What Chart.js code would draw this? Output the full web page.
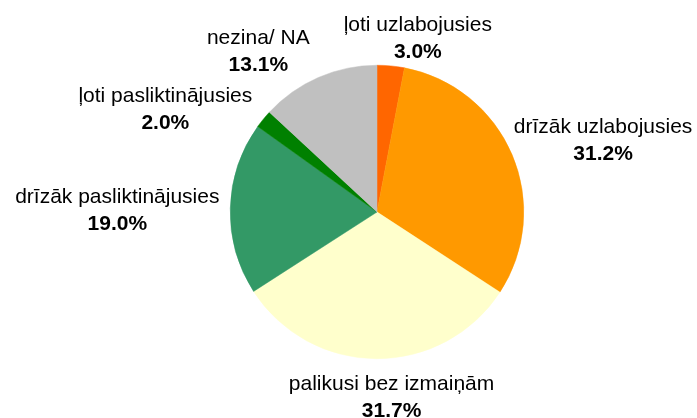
<!DOCTYPE html>
<html>
<head>
<meta charset="utf-8">
<script src="https://cdn.jsdelivr.net/npm/chart.js@4/dist/chart.umd.min.js"></script>
<style>
  html, body { margin: 0; padding: 0; background: #fff; }
  #wrap { width: 697px; height: 418px; }
</style>
</head>
<body>
<div id="wrap"><canvas id="pie" width="697" height="418"></canvas></div>
<script>
const categories = ["ļoti uzlabojusies", "drīzāk uzlabojusies", "palikusi bez izmaiņām",
  "drīzāk pasliktinājusies", "ļoti pasliktinājusies", "nezina/ NA"];
const shares = [3.0, 31.2, 31.7, 19.0, 2.0, 13.1];
const sliceColors = ["#FF6600", "#FF9900", "#FFFFCC", "#339966", "#008000", "#C0C0C0"];

// where each label sits, relative to the middle of its slice's outer edge
const labelOffsets = [[27, -8], [91, 5], [15, 58], [-113, 22], [-98, 10], [-60, -7]];

const outsideLabels = {
  id: "outsideLabels",
  afterDatasetsDraw(chart) {
    const ctx = chart.ctx;
    const meta = chart.getDatasetMeta(0);
    ctx.save();
    ctx.fillStyle = "#000";
    ctx.textAlign = "center";
    ctx.textBaseline = "alphabetic";
    meta.data.forEach((arc, i) => {
      const mid = (arc.startAngle + arc.endAngle) / 2;
      const ex = arc.x + Math.cos(mid) * arc.outerRadius;
      const ey = arc.y + Math.sin(mid) * arc.outerRadius;
      const x = ex + labelOffsets[i][0];
      const y = ey + labelOffsets[i][1];
      ctx.font = "21px 'Liberation Sans', Arial, sans-serif";
      ctx.fillText(categories[i], x, y - 27);
      ctx.font = "bold 21px 'Liberation Sans', Arial, sans-serif";
      ctx.fillText(shares[i].toFixed(1) + "%", x, y);
    });
    ctx.restore();
  }
};

new Chart(document.getElementById("pie"), {
  type: "pie",
  data: {
    labels: categories,
    datasets: [{
      data: shares,
      backgroundColor: sliceColors,
      borderColor: sliceColors, // same as fill, hides the seams between slices
      borderWidth: 0.5
    }]
  },
  options: {
    responsive: false,
    animation: false,
    layout: { padding: { left: 200, right: 143, top: 65, bottom: 59 } },
    plugins: { legend: { display: false }, tooltip: { enabled: false } }
  },
  plugins: [outsideLabels]
});
</script>
</body>
</html>
